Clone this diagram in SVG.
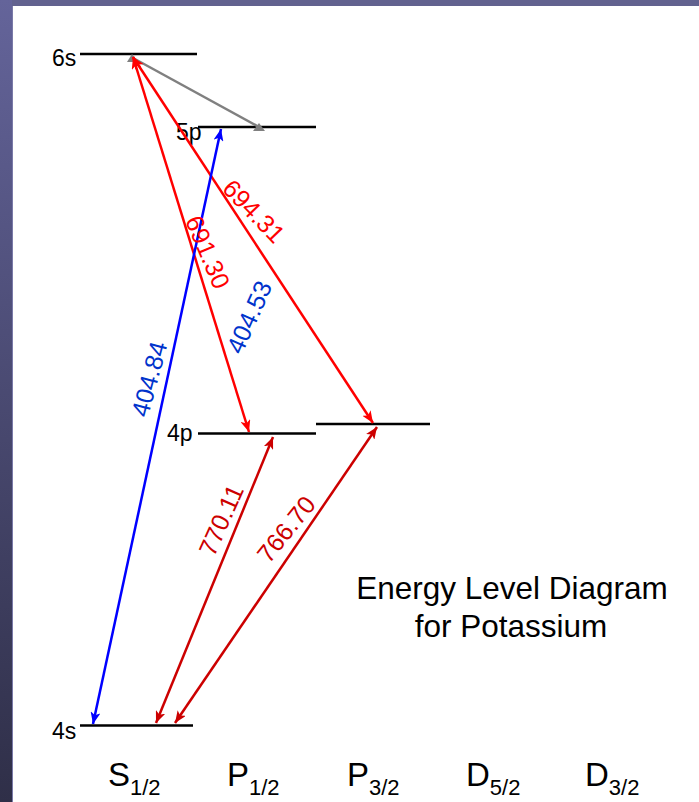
<svg xmlns="http://www.w3.org/2000/svg" width="699" height="802" viewBox="0 0 699 802">
<defs>
<linearGradient id="band" x1="0" y1="0" x2="0" y2="1">
<stop offset="0" stop-color="#64649a"/>
<stop offset="1" stop-color="#2f2f48"/>
</linearGradient>
<marker id="aBlue" viewBox="0 0 12 10" refX="12" refY="5" markerWidth="12" markerHeight="10" markerUnits="userSpaceOnUse" orient="auto-start-reverse"><path d="M0,0 L12,5 L0,10 L3,5 z" fill="#0000ff"/></marker>
<marker id="aRed" viewBox="0 0 12 10" refX="12" refY="5" markerWidth="12" markerHeight="10" markerUnits="userSpaceOnUse" orient="auto-start-reverse"><path d="M0,0 L12,5 L0,10 L3,5 z" fill="#ff0000"/></marker>
<marker id="aDark" viewBox="0 0 12 10" refX="12" refY="5" markerWidth="12" markerHeight="10" markerUnits="userSpaceOnUse" orient="auto-start-reverse"><path d="M0,0 L12,5 L0,10 L3,5 z" fill="#cc0000"/></marker>
</defs>
<style>
.lvl{stroke:#000;stroke-width:2.5}
.lbl{font-family:"Liberation Sans",Arial,sans-serif;font-size:23px;fill:#000}
.wl{font-family:"Liberation Sans",Arial,sans-serif;font-size:25px;text-anchor:middle}
.term{font-family:"Liberation Sans",Arial,sans-serif;font-size:33px;fill:#000}
.sub{font-size:22px}
.title{font-family:"Liberation Sans",Arial,sans-serif;font-size:31.5px;fill:#000;text-anchor:middle}
.c{fill:none;stroke-width:2.5}
</style>
<rect width="699" height="802" fill="#ffffff"/>
<rect x="0" y="0" width="699" height="6" fill="#62628f"/>
<rect x="0" y="0" width="12" height="802" fill="url(#band)"/>
<line x1="12.5" y1="6" x2="12.5" y2="802" stroke="#7a7aa8" stroke-width="1"/>

<g id="level-6s"><line class="lvl" x1="80" y1="54" x2="197" y2="54"/><text class="lbl" x="52" y="66">6s</text></g>
<g id="level-5p"><line class="lvl" x1="198" y1="127" x2="316" y2="127"/><text class="lbl" x="176" y="140">5p</text></g>
<g id="level-4p12"><line class="lvl" x1="198" y1="433.5" x2="316" y2="433.5"/><text class="lbl" x="167" y="441">4p</text></g>
<g id="level-4p32"><line class="lvl" x1="316" y1="424" x2="430" y2="424"/></g>
<g id="level-4s"><line class="lvl" x1="80" y1="725.5" x2="193" y2="725.5"/><text class="lbl" x="52" y="739">4s</text></g>

<g id="connectors">
<line class="c" stroke="#808080" x1="133" y1="58" x2="259" y2="127"/>
<polygon points="253,131 265,131 259,123" fill="#808080"/>
<polygon points="127,62 138,62 132,54" fill="#808080"/>
<line class="c" stroke="#ff0000" x1="133" y1="57" x2="249" y2="432" marker-start="url(#aRed)" marker-end="url(#aRed)"/>
<line class="c" stroke="#ff0000" x1="133" y1="57" x2="373" y2="423" marker-start="url(#aRed)" marker-end="url(#aRed)"/>
<line class="c" stroke="#0000ff" x1="93" y1="724" x2="221" y2="129" marker-start="url(#aBlue)" marker-end="url(#aBlue)"/>
<line class="c" stroke="#cc0000" x1="156" y1="723" x2="273" y2="437" marker-start="url(#aDark)" marker-end="url(#aDark)"/>
<line class="c" stroke="#cc0000" x1="175" y1="723" x2="377" y2="427" marker-start="url(#aDark)" marker-end="url(#aDark)"/>
</g>

<g id="wavelengths">
<text class="wl" fill="#ff0000" transform="translate(254,211) rotate(46)" dy="0.36em">694.31</text>
<text class="wl" fill="#ff0000" transform="translate(208,252) rotate(67)" dy="0.36em">691.30</text>
<text class="wl" fill="#0033cc" transform="translate(249,317) rotate(-66)" dy="0.36em">404.53</text>
<text class="wl" fill="#0033cc" transform="translate(149,379) rotate(-75)" dy="0.36em">404.84</text>
<text class="wl" fill="#cc0000" transform="translate(221,520) rotate(-66)" dy="0.36em">770.11</text>
<text class="wl" fill="#cc0000" transform="translate(286,529) rotate(-51)" dy="0.36em">766.70</text>
</g>

<g id="title">
<text class="title" x="512" y="599">Energy Level Diagram</text>
<text class="title" x="511" y="637">for Potassium</text>
</g>

<g id="terms">
<text class="term" x="108" y="786">S<tspan class="sub" dy="9">1/2</tspan></text>
<text class="term" x="227" y="786">P<tspan class="sub" dy="9">1/2</tspan></text>
<text class="term" x="347" y="786">P<tspan class="sub" dy="9">3/2</tspan></text>
<text class="term" x="466" y="786">D<tspan class="sub" dy="9">5/2</tspan></text>
<text class="term" x="585" y="786">D<tspan class="sub" dy="9">3/2</tspan></text>
</g>
</svg>
